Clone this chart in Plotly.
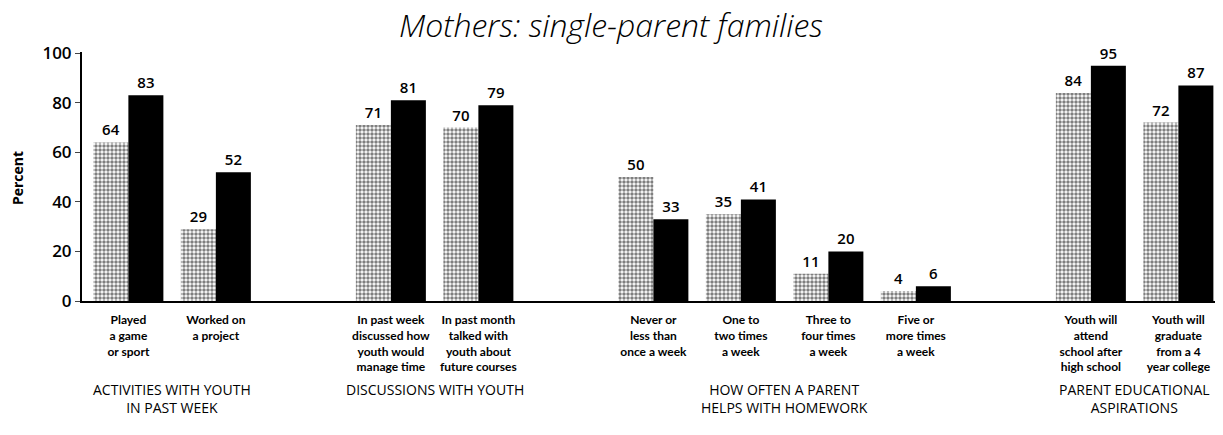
import plotly.graph_objects as go

# groups and their items (category labels)
groups = [
    ("ACTIVITIES WITH YOUTH<br>IN PAST WEEK", ["Played<br>a game<br>or sport", "Worked on<br>a project"]),
    ("DISCUSSIONS WITH YOUTH", ["In past week<br>discussed how<br>youth would<br>manage time",
                                "In past month<br>talked with<br>youth about<br>future courses"]),
    ("HOW OFTEN A PARENT<br>HELPS WITH HOMEWORK", ["Never or<br>less than<br>once a week", "One to<br>two times<br>a week",
                                                  "Three to<br>four times<br>a week", "Five or<br>more times<br>a week"]),
    ("PARENT EDUCATIONAL<br>ASPIRATIONS", ["Youth will<br>attend<br>school after<br>high school",
                                           "Youth will<br>graduate<br>from a 4<br>year college"]),
]
dotted_vals = [64, 29, 71, 70, 50, 35, 11, 4, 84, 72]
black_vals = [83, 52, 81, 79, 33, 41, 20, 6, 95, 87]
y_ticks = [0, 20, 40, 60, 80, 100]

# x positions: one slot per item, one empty slot between groups
xs, labels, group_centers = [], [], []
pos = 0
for name, items in groups:
    start = pos
    for it in items:
        xs.append(pos)
        labels.append(it)
        pos += 1
    group_centers.append((name, (start + pos - 1) / 2))
    pos += 1

FONT = "Open Sans"
CAT_FONT = "Lato"

fig = go.Figure()
fig.add_trace(go.Bar(
    x=xs, y=dotted_vals, name="dotted",
    marker=dict(color="#8c8c8c", line=dict(width=0),
                pattern=dict(shape=".", fgcolor="black", bgcolor="white", size=4, solidity=0.6)),
    text=dotted_vals, textposition="outside", cliponaxis=False,
    textfont=dict(size=15, color="black", family=FONT, weight=600),
))
fig.add_trace(go.Bar(
    x=xs, y=black_vals, name="black",
    marker=dict(color="black", line=dict(width=0)),
    text=black_vals, textposition="outside", cliponaxis=False,
    textfont=dict(size=15, color="black", family=FONT, weight=600),
))

for name, cx in group_centers:
    fig.add_annotation(x=cx, y=-0.31, xref="x", yref="paper", text=name, showarrow=False,
                       yanchor="top", font=dict(size=14, family=FONT, color="black"))

fig.add_annotation(x=-0.056, y=0.494, xref="paper", yref="paper", text="<b>Percent</b>",
                   textangle=-90, showarrow=False, xanchor="center", yanchor="middle",
                   font=dict(size=14, family=FONT, color="black"))

fig.update_layout(
    width=1223, height=435,
    margin=dict(l=74, r=8, t=44, b=142),
    paper_bgcolor="white", plot_bgcolor="white",
    barmode="group", bargap=0.2, bargroupgap=0,
    showlegend=False,
    title=dict(text="<i>Mothers: single-parent families</i>", x=0.493, xanchor="center",
               y=0.985, yanchor="top", font=dict(size=32, family=FONT, color="black", weight=300)),
    font=dict(family=FONT, color="black"),
)
fig.update_xaxes(
    range=[-0.53, 12.51], tickvals=xs, ticktext=labels, showgrid=False, zeroline=False,
    showline=True, linecolor="black", linewidth=2, ticks="", automargin=False, ticklabelstandoff=7,
    tickfont=dict(size=12, family=CAT_FONT, color="black", weight=700),
)
fig.update_yaxes(
    range=[0, 100.5], tickvals=y_ticks, showgrid=False, zeroline=False, automargin=False,
    showline=True, linecolor="black", linewidth=2, ticks="outside", ticklen=5,
    tickfont=dict(size=17, family=FONT, color="black", weight=600),
)

fig.write_html("out.html")
